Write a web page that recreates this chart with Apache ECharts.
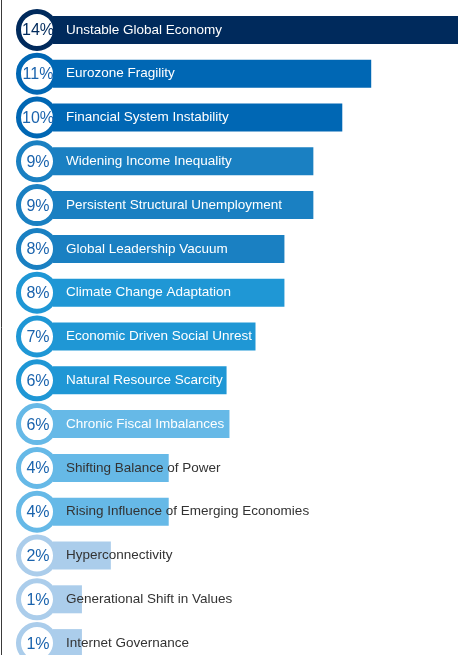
<!DOCTYPE html>
<html>
	<head>
		<meta charset="utf-8" />
		<title>Global Risks</title>
		<style type="text/css">
			html, body {margin:0;padding:0;background:#fff;}
			#chart {width:465px;height:655px;}
		</style>
	</head>
	<body>
		<div id="chart"></div>
		<script src="https://cdn.jsdelivr.net/npm/echarts@6/dist/echarts.min.js"></script>
		<script type="text/javascript">
			// 数据
			const categories = [
				'Unstable Global Economy', 'Eurozone Fragility', 'Financial System Instability',
				'Widening Income Inequality', 'Persistent Structural Unemployment', 'Global Leadership Vacuum',
				'Climate Change Adaptation', 'Economic Driven Social Unrest', 'Natural Resource Scarcity',
				'Chronic Fiscal Imbalances', 'Shifting Balance of Power', 'Rising Influence of Emerging Economies',
				'Hyperconnectivity', 'Generational Shift in Values', 'Internet Governance'
			];
			const values = [14, 11, 10, 9, 9, 8, 8, 7, 6, 6.1, 4, 4, 2, 1, 1];
			const percentLabels = ['14%', '11%', '10%', '9%', '9%', '8%', '8%', '7%', '6%', '6%', '4%', '4%', '2%', '1%', '1%'];

			// 颜色
			const barColors = [
				'#002a5c', '#0067b4', '#0067b4', '#1a80c2', '#1a80c2', '#1a80c2', '#1f97d5', '#1f97d5',
				'#1f97d5', '#66b9e7', '#66b9e7', '#66b9e7', '#abcdeb', '#abcdeb', '#abcdeb'
			];
			const nameColors = values.map((v, i) => i < 10 ? '#ffffff' : '#333333');
			const pctColors = values.map((v, i) => i === 0 ? '#002a5c' : '#1a63ad');

			const FONT = '"Liberation Sans", Arial, Helvetica, sans-serif';

			const chart = echarts.init(document.getElementById('chart'));
			const option = {
				animation: false,
				grid: {
					left: 53,
					width: 405,
					top: 8,
					height: 657,
					outerBoundsMode: 'none'
				},
				xAxis: {
					type: 'value',
					min: 0,
					max: 14,
					show: false
				},
				yAxis: {
					type: 'category',
					inverse: true,
					data: categories,
					show: false
				},
				graphic: [{
					type: 'line',
					shape: {x1: 1.5, y1: 0, x2: 1.5, y2: 655},
					style: {stroke: '#3a3a3a', lineWidth: 1}
				}],
				series: [{
					type: 'bar',
					barWidth: 28,
					data: values.map((v, i) => ({
						value: v,
						itemStyle: {color: barColors[i]},
						label: {color: nameColors[i]}
					})),
					label: {
						show: true,
						position: 'insideLeft',
						distance: 13,
						formatter: '{b}',
						fontFamily: FONT,
						fontSize: 13.5
					}
				}, {
					type: 'scatter',
					clip: false,
					z: 3,
					symbol: 'circle',
					symbolSize: 37,
					symbolOffset: [-16, 0],
					itemStyle: {opacity: 1},
					data: values.map((v, i) => ({
						value: [0, categories[i]],
						itemStyle: {color: '#fff', borderColor: barColors[i], borderWidth: 5, opacity: 1},
						label: {color: pctColors[i], formatter: percentLabels[i]}
					})),
					label: {
						show: true,
						position: 'inside',
						offset: [1, 1],
						fontFamily: FONT,
						fontSize: 16
					}
				}]
			};
			chart.setOption(option);
		</script>
	</body>
</html>
